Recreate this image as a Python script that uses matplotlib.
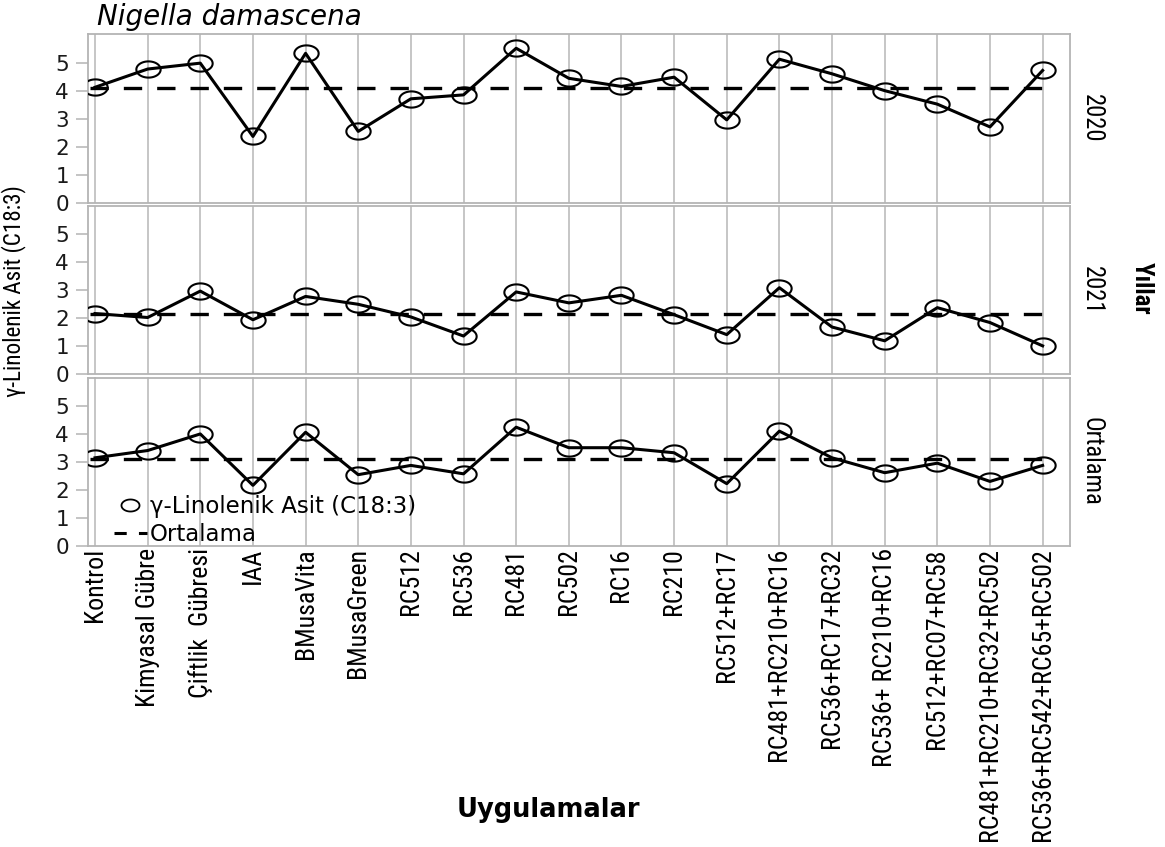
import numpy as np
import matplotlib
matplotlib.use('Agg')
import matplotlib.pyplot as plt
from matplotlib.path import Path
from matplotlib.lines import Line2D
from matplotlib import font_manager
from matplotlib.font_manager import FontProperties
from matplotlib.textpath import TextPath

W, H = 1165, 847

# ---------------------------------------------------------------------------
# Data
# ---------------------------------------------------------------------------
categories = ['Kontrol', 'Kimyasal Gübre', 'Çiftlik  Gübresi', 'IAA', 'BMusaVita',
              'BMusaGreen', 'RC512', 'RC536', 'RC481', 'RC502', 'RC16', 'RC210',
              'RC512+RC17', 'RC481+RC210+RC16', 'RC536+RC17+RC32',
              'RC536+ RC210+RC16', 'RC512+RC07+RC58', 'RC481+RC210+RC32+RC502',
              'RC536+RC542+RC65+RC502']
panel_labels = ['2020', '2021', 'Ortalama']

values_2020 = [4.12, 4.77, 4.98, 2.37, 5.33, 2.55, 3.71, 3.85, 5.51, 4.44,
               4.15, 4.48, 2.96, 5.12, 4.60, 4.00, 3.52, 2.71, 4.72]
values_2021 = [2.17, 2.03, 2.97, 1.95, 2.78, 2.50, 2.05, 1.37, 2.94, 2.55,
               2.82, 2.13, 1.42, 3.09, 1.69, 1.20, 2.38, 1.85, 1.02]
values_ort = [3.14, 3.40, 3.99, 2.16, 4.05, 2.54, 2.87, 2.57, 4.23, 3.50,
              3.50, 3.32, 2.22, 4.09, 3.14, 2.61, 2.95, 2.30, 2.87]
mean_values = [4.08, 2.14, 3.11]

legend_labels = ['γ-Linolenik Asit (C18:3)', 'Ortalama']

# ---------------------------------------------------------------------------
# Styling
# ---------------------------------------------------------------------------
plt.rcParams['font.family'] = 'DejaVu Sans'

# the rotated labels use the narrowest face that is installed
available = {f.name for f in font_manager.fontManager.ttflist}
narrow_family, narrow_stretch = 'DejaVu Sans', 'condensed'
for cand in ['Liberation Sans Narrow', 'Noto Sans ExtraCondensed', 'Noto Sans Condensed',
             'Roboto Condensed', 'Open Sans Condensed', 'DejaVu Sans Condensed']:
    if cand in available:
        narrow_family, narrow_stretch = cand, 'normal'
        break


def narrow(weight='normal'):
    return FontProperties(family=narrow_family, stretch=narrow_stretch, weight=weight)


def fit_size(text, target_px, prop):
    # font size (pt) for which the text is target_px long at 100 dpi
    w = TextPath((0, 0), text, size=100, prop=prop).get_extents().width
    return 100 * target_px * 0.72 / w


def sized(prop, size):
    p = prop.copy()
    p.set_size(size)
    return p


GRID = '#c6c6c6'
FRAME = '#b4b4b4'

# slightly wide open circle used as the point marker
theta = np.linspace(0, 2 * np.pi, 73)
ELLIPSE = Path(np.column_stack([1.5 * np.cos(theta), np.sin(theta)]), closed=True)


def px_rect(left, top, right, bottom):
    return [left / W, 1 - bottom / H, (right - left) / W, (bottom - top) / H]


panel_boxes = [(88, 34.5, 1070, 203), (88, 206, 1070, 374.5), (88, 377.5, 1070, 546)]
series = [values_2020, values_2021, values_ort]
x = np.arange(len(categories))

xtick_prop = sized(narrow(), fit_size(categories[-1], 290, narrow()))
facet_prop = sized(narrow(), fit_size('Ortalama', 86, narrow()))
ylab_prop = sized(narrow(), fit_size(legend_labels[0], 210, narrow()))
years_prop = sized(narrow('bold'), fit_size('Yıllar', 52, narrow('bold')))

fig = plt.figure(figsize=(W / 100, H / 100), dpi=100)

for i, (box, vals, mean, lab) in enumerate(zip(panel_boxes, series, mean_values, panel_labels)):
    ax = fig.add_axes(px_rect(*box))
    ax.set_xlim(-0.133, 18.52)
    ax.set_ylim(0, 6.0)
    ax.set_xticks(x)
    ax.set_yticks(range(6))
    ax.xaxis.grid(True, color=GRID, lw=1.4)
    ax.set_axisbelow(True)
    ax.tick_params(axis='y', length=8.6, width=1.1, color=FRAME, pad=5, labelsize=15.5,
                   labelcolor='#1a1a1a')
    ax.tick_params(axis='x', length=0, pad=1.5)
    for s in ax.spines.values():
        s.set_color(FRAME)
        s.set_linewidth(1.3)

    ax.plot(x, vals, color='black', lw=2.2, marker=ELLIPSE, ms=17.5,
            mfc='none', mec='black', mew=1.5, zorder=3)
    ax.plot([x[0] - 0.1, x[-1] + 0.14], [mean, mean], color='black', lw=2.4,
            dashes=(5.5, 4.5), zorder=2)

    if i < 2:
        ax.set_xticklabels([])
    else:
        ax.set_xticklabels(categories, rotation=90, fontproperties=xtick_prop)
        handles = [Line2D([], [], ls='none', marker=ELLIPSE, ms=13, mfc='none',
                          mec='black', mew=1.3),
                   Line2D([], [], color='black', lw=2.2, dashes=(4, 4))]
        ax.legend(handles, legend_labels, loc='lower left', bbox_to_anchor=(0.026, 0.0),
                  frameon=False, fontsize=16.5, handlelength=1.45, handletextpad=0.12,
                  labelspacing=0.2, borderpad=0, borderaxespad=0)

    yc = (box[1] + box[3]) / 2
    fig.text(1092 / W, 1 - yc / H, lab, rotation=270, ha='center', va='center',
             fontproperties=facet_prop)

fig.text(97 / W, 1 - 17 / H, 'Nigella damascena', style='italic', fontsize=20,
         ha='left', va='center')
fig.text(14 / W, 1 - 291 / H, 'γ-Linolenik Asit (C18:3)', rotation=90,
         ha='center', va='center', fontproperties=ylab_prop)
fig.text(1142 / W, 1 - 288 / H, 'Yıllar', rotation=270, ha='center', va='center',
         fontproperties=years_prop)
fig.text(548 / W, 1 - 810 / H, 'Uygulamalar', ha='center', va='center',
         fontweight='bold', fontsize=18.5)

fig.savefig('out.png', dpi=100)
